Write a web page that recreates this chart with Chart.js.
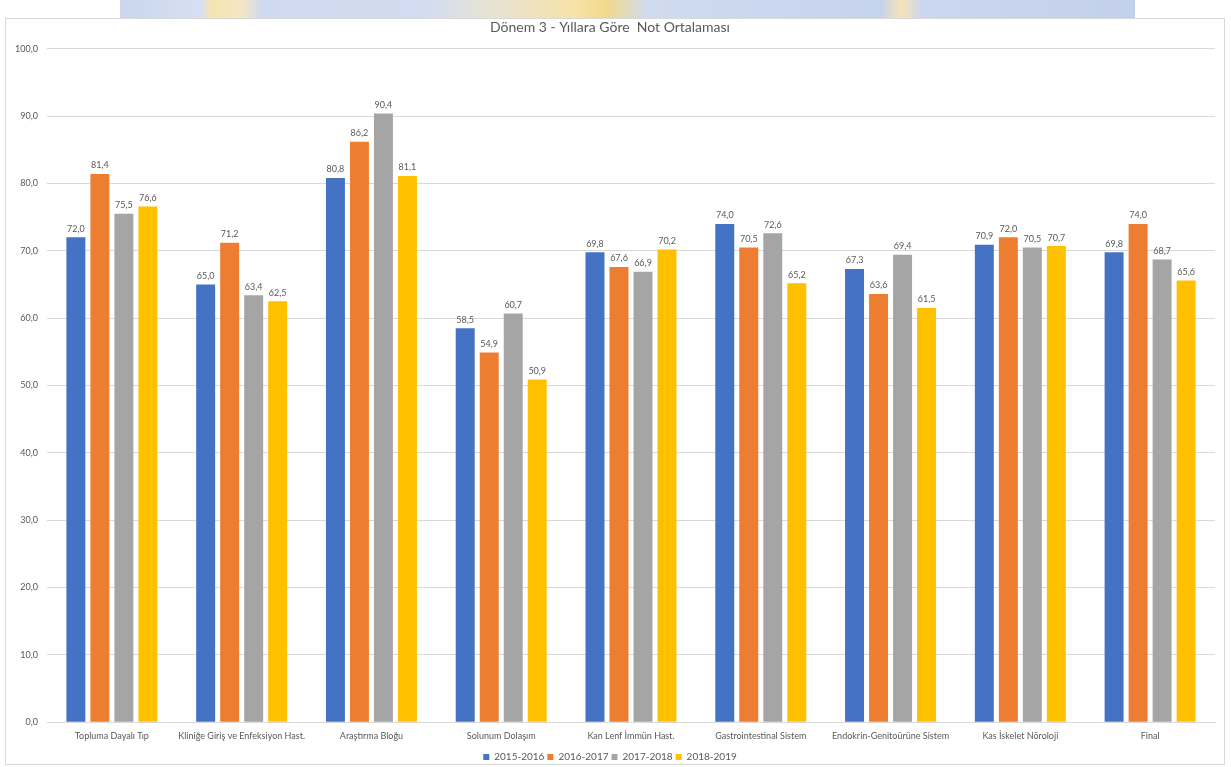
<!DOCTYPE html>
<html lang="tr">
<head>
<meta charset="UTF-8">
<title>Dönem 3 - Yıllara Göre Not Ortalaması</title>
<script src="https://cdn.jsdelivr.net/npm/chart.js@4/dist/chart.umd.min.js"></script>
<style>
  html, body { margin: 0; padding: 0; background: #fff; }
  body { width: 1231px; height: 767px; position: relative; overflow: hidden; }
  .strip {
    position: absolute; left: 120px; top: 0; width: 1015px; height: 18px;
    background: linear-gradient(90deg, #c9d6ee 0%, #d7e0f2 8%, #f6e3b0 9%, #f3e7c4 12%, #cfdaf0 14%,
      #d2dcf1 30%, #e6e3d6 36%, #f7e1a6 45%, #f1d98c 48%, #d0dbf0 52%, #c6d3ec 75%, #f5e4b8 77%, #cbd7ee 79%, #c3d0eb 100%);
  }
  .frame {
    position: absolute; left: 5px; top: 18px; width: 1220px; height: 747px;
    border: 1px solid #d9d9d9; box-sizing: border-box;
  }
  canvas { position: absolute; left: 0; top: 0; }
</style>
</head>
<body>
<div class="strip"></div>
<div class="frame"></div>
<canvas id="chart" width="1231" height="767"></canvas>
<script>
const categories = ['Topluma Dayalı Tıp', 'Kliniğe Giriş ve Enfeksiyon Hast.', 'Araştırma Bloğu', 'Solunum Dolaşım',
  'Kan Lenf İmmün Hast.', 'Gastrointestinal Sistem', 'Endokrin-Genitoürüne Sistem', 'Kas İskelet Nöroloji', 'Final'];
const years = ['2015-2016', '2016-2017', '2017-2018', '2018-2019'];
const y2015 = [72.0, 65.0, 80.8, 58.5, 69.8, 74.0, 67.3, 70.9, 69.8];
const y2016 = [81.4, 71.2, 86.2, 54.9, 67.6, 70.5, 63.6, 72.0, 74.0];
const y2017 = [75.5, 63.4, 90.4, 60.7, 66.9, 72.6, 69.4, 70.5, 68.7];
const y2018 = [76.6, 62.5, 81.1, 50.9, 70.2, 65.2, 61.5, 70.7, 65.6];
const yTicks = [0, 10, 20, 30, 40, 50, 60, 70, 80, 90, 100];

const colors = ['#4472C4', '#ED7D31', '#A5A5A5', '#FFC000'];
const fmt = v => v.toFixed(1).replace('.', ',');
const txt = '#595959';
const fam = 'Lato, "Open Sans", sans-serif';

// value labels over the bars
const barLabels = {
  id: 'barLabels',
  afterDatasetsDraw(chart) {
    const ctx = chart.ctx;
    ctx.save();
    ctx.font = '9px ' + fam;
    ctx.fillStyle = txt;
    ctx.textAlign = 'center';
    ctx.textBaseline = 'bottom';
    chart.data.datasets.forEach((ds, i) => {
      chart.getDatasetMeta(i).data.forEach((bar, j) => {
        ctx.fillText(fmt(ds.data[j]), bar.x, bar.y - 4);
      });
    });
    ctx.restore();
  }
};

const series = [y2015, y2016, y2017, y2018];

new Chart(document.getElementById('chart'), {
  type: 'bar',
  data: {
    labels: categories,
    datasets: series.map((d, i) => ({
      label: years[i],
      data: d,
      backgroundColor: colors[i],
      categoryPercentage: 0.74,
      barPercentage: 0.79
    }))
  },
  options: {
    responsive: false,
    animation: false,
    layout: { padding: { left: 5, right: 16, top: 17, bottom: -5 } },
    plugins: {
      title: {
        display: true,
        text: 'Dönem 3 - Yıllara Göre  Not Ortalaması',
        color: txt,
        font: { family: fam, size: 14, weight: 'normal' },
        padding: { top: 2, bottom: 13 }
      },
      legend: {
        position: 'bottom',
        labels: {
          color: txt,
          font: { family: fam, size: 10 },
          boxWidth: 6,
          boxHeight: 6,
          padding: 3
        }
      },
      tooltip: { enabled: false }
    },
    scales: {
      x: {
        grid: { display: false, drawTicks: false },
        border: { color: '#d9d9d9' },
        ticks: { color: txt, font: { family: fam, size: 9 }, padding: 8, maxRotation: 0, autoSkip: false }
      },
      y: {
        min: 0,
        max: 100,
        afterFit(scale) { scale.width = 42; },
        afterBuildTicks(scale) { scale.ticks = yTicks.map(v => ({ value: v })); },
        grid: { color: '#d9d9d9', drawTicks: false },
        border: { display: false },
        ticks: { color: txt, font: { family: fam, size: 9 }, padding: 9, callback: v => fmt(v) }
      }
    }
  },
  plugins: [barLabels]
});
</script>
</body>
</html>
